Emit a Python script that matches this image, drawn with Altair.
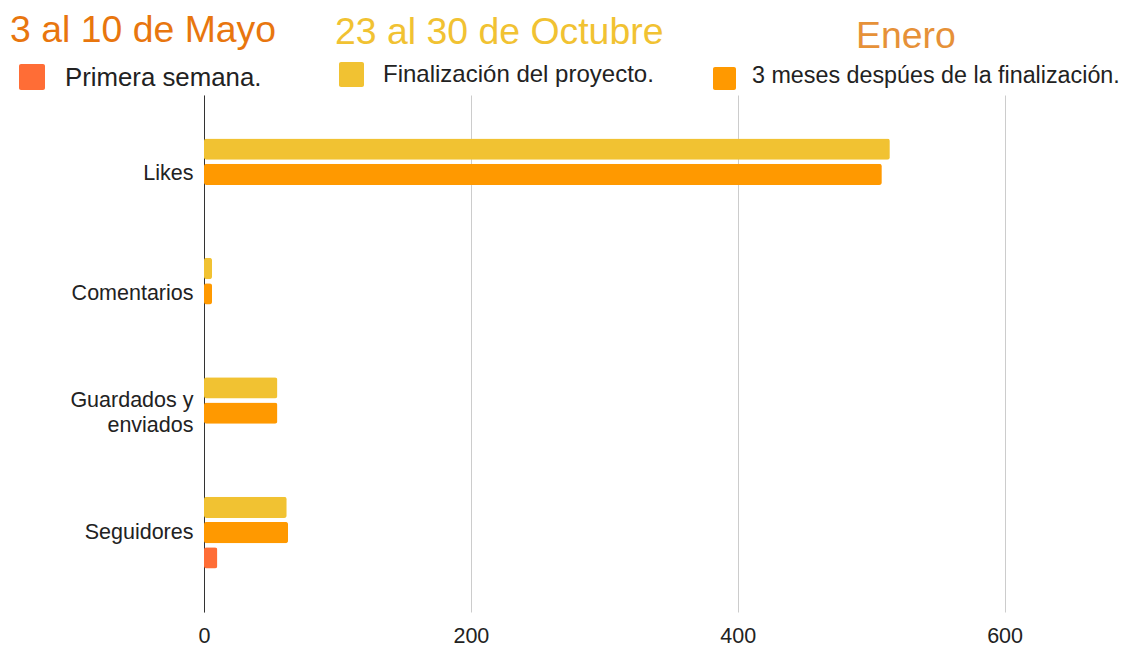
import altair as alt
import pandas as pd

# ---- data ----
categories = ["Likes", "Comentarios", "Guardados y\nenviados", "Seguidores"]
series = ["Primera semana.", "Finalización del proyecto.", "3 meses despúes de la finalización."]
primera = [None, None, None, 10]
finalizacion = [514, 6, 55, 62]
tres_meses = [508, 6, 55, 63]
x_ticks = [0, 200, 400, 600]
periods = ["3 al 10 de Mayo", "23 al 30 de Octubre", "Enero"]

colors = ["#FF6D36", "#F1C232", "#FF9900"]
title_colors = ["#E8760E", "#F1C232", "#E69138"]
FONT = "Liberation Sans"

rows = []
for vals, s in zip([primera, finalizacion, tres_meses], series):
    for c, v in zip(categories, vals):
        if v is not None:
            rows.append({"categoria": c, "serie": s, "valor": v})
df = pd.DataFrame(rows)

offset_order = [series[1], series[2], series[0]]

bars = alt.Chart(df).mark_bar(cornerRadius=2.5).encode(
    x=alt.X("valor:Q",
            scale=alt.Scale(domain=[0, 688], nice=False),
            axis=alt.Axis(values=x_ticks, grid=True, gridColor="#cccccc", gridWidth=1,
                          domain=False, ticks=False, labelFontSize=21.5, labelPadding=13,
                          labelFlush=False,
                          labelColor="#222222", labelFont=FONT, title=None)),
    y=alt.Y("categoria:N", sort=categories,
            scale=alt.Scale(paddingInner=0, paddingOuter=0.165),
            axis=alt.Axis(domain=True, domainColor="#333333", domainWidth=1, ticks=False,
                          grid=False, labelFontSize=21.5, labelPadding=11, labelColor="#222222",
                          labelFont=FONT, labelLineHeight=25,
                          labelOffset={"condition": {"test": "indexof(datum.value, '\\n') >= 0",
                                                     "value": -12.5},
                                       "value": 0},
                          labelExpr="split(datum.label, '\\n')", title=None)),
    yOffset=alt.YOffset("serie:N", sort=offset_order,
                        scale=alt.Scale(paddingInner=0.158, paddingOuter=0.9375)),
    color=alt.Color("serie:N", scale=alt.Scale(domain=series, range=colors), legend=None),
)


def text_layer(txt, color, size, x, y):
    d = pd.DataFrame({"t": [txt]})
    return alt.Chart(d).mark_text(align="left", baseline="alphabetic", font=FONT,
                                  fontSize=size, color=color).encode(
        text="t:N", x=alt.value(x), y=alt.value(y))


def square_layer(color, x, y, s):
    d = pd.DataFrame({"c": [color]})
    return alt.Chart(d).mark_rect(cornerRadius=2, color=color).encode(
        x=alt.value(x), x2=alt.value(x + s), y=alt.value(y), y2=alt.value(y + s))


layers = [
    bars,
    text_layer(periods[0], title_colors[0], 37.4, -194, -53),
    text_layer(periods[1], title_colors[1], 37.4, 131, -51),
    text_layer(periods[2], title_colors[2], 37.4, 652, -47),
    square_layer(colors[0], -185, -31, 26),
    square_layer(colors[1], 135, -33, 25),
    square_layer(colors[2], 509, -28, 23),
    text_layer(series[0], "#222222", 25.8, -139, -9),
    text_layer(series[1], "#222222", 24, 179, -13),
    text_layer(series[2], "#222222", 23.3, 548, -12),
]

chart = alt.layer(*layers).properties(
    width=918, height=517,
    autosize=alt.AutoSizeParams(type="none"),
    padding={"left": 196, "top": 87, "right": 0, "bottom": 40},
).configure_view(stroke=None)

chart.save("out.html", embed_options={"renderer": "svg", "actions": False})
